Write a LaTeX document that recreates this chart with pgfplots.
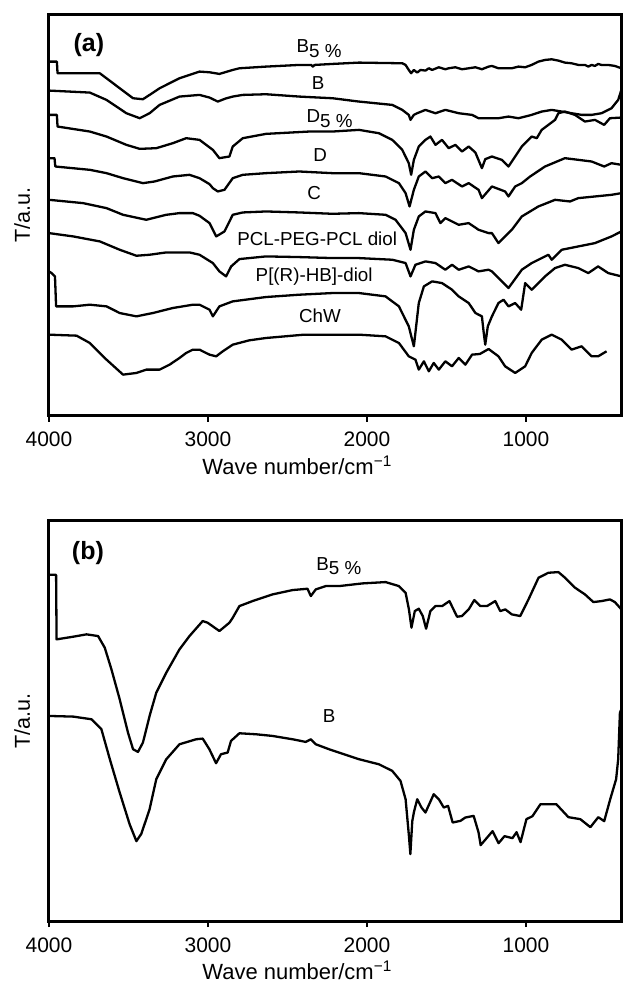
\documentclass[border=0pt]{standalone}
\usepackage{fontspec}
\setmainfont{Liberation Sans}
\usepackage{pgfplots}
\pgfplotsset{compat=1.18}
\usetikzlibrary{calc}

\pgfplotsset{
  ftir/.style={
    scale only axis, width=286.5bp, height=200.5bp,
    x dir=reverse, xmin=400, xmax=4000, ymin=0, ymax=1203,
    xtick={4000,3000,2000,1000}, ytick=\empty,
    xtick pos=bottom, tick align=outside, major tick length=3bp,
    axis line style={line width=1.5bp, black},
    tick style={line width=1.2bp, black},
    /pgf/number format/assume math mode=true,
    /pgf/number format/1000 sep={},
    xticklabel style={font=\fontsize{10.5bp}{12bp}\selectfont, anchor=center, yshift=-9bp},
    xlabel={Wave number/cm\textsuperscript{−1}},
    ylabel={T/a.u.},
    xlabel style={at={(axis description cs:0.434,0)}, anchor=center, yshift=-24.8bp, font=\fontsize{11bp}{13bp}\selectfont},
    ylabel style={at={(axis description cs:-0.047,0.5)}, anchor=center, font=\fontsize{10.8bp}{12bp}\selectfont},
    cycle list={{black, solid}},
    every axis plot post/.append style={line width=1.15bp, black, solid, no markers, line join=round},
    clip=false,
  },
}
\tikzset{
  lbl/.style={anchor=base, font=\fontsize{9.4bp}{11bp}\selectfont, inner sep=0pt},
  pan/.style={anchor=base, font=\fontsize{12.5bp}{14bp}\selectfont\bfseries, inner sep=0pt},
}

\begin{document}
\begin{tikzpicture}

% (a)
\begin{axis}[ftir, name=pa, at={(0,0)}, anchor=north west]
% B5 %
\addplot coordinates {(4000,1063) (3950,1063) (3946,1028) (3847,1028) (3743,1028) (3680,1028) (3638,1013) (3555,983) (3471,953) (3409,950) (3367,963) (3304,983) (3179,1013) (3053,1033) (2991,1031) (2928,1026) (2844,1038) (2802,1043) (2635,1048) (2426,1053) (2350,1053) (2340,1048) (2330,1053) (2217,1056) (2050,1060) (1778,1058) (1757,1053) (1737,1038) (1722,1028) (1705,1038) (1684,1030) (1663,1038) (1632,1036) (1611,1043) (1590,1038) (1548,1046) (1507,1040) (1486,1043) (1444,1046) (1402,1040) (1360,1043) (1318,1046) (1277,1040) (1235,1048) (1214,1050) (1173,1043) (1131,1043) (1089,1043) (1047,1048) (1005,1046) (964,1053) (922,1063) (880,1068) (838,1070) (796,1066) (755,1060) (713,1058) (671,1053) (629,1053) (608,1048) (587,1053) (566,1050) (546,1056) (525,1053) (483,1053) (441,1050) (400,1043)};
% B
\addplot coordinates {(4000,976) (3743,970) (3638,948) (3513,908) (3429,893) (3367,908) (3304,933) (3179,958) (3053,963) (2990,955) (2938,943) (2890,952) (2844,958) (2781,963) (2635,965) (2426,958) (2217,953) (2050,943) (1841,933) (1778,918) (1737,903) (1726,888) (1705,903) (1684,908) (1632,918) (1569,908) (1507,918) (1423,908) (1339,903) (1298,893) (1235,893) (1173,893) (1110,898) (1047,893) (964,903) (901,913) (838,918) (775,913) (713,908) (650,903) (587,903) (525,908) (462,923) (420,948) (400,978)};
% D5 %
\addplot coordinates {(4000,903) (3950,903) (3946,868) (3743,853) (3638,838) (3513,813) (3429,801) (3325,803) (3221,818) (3137,833) (3053,828) (2969,798) (2928,773) (2865,778) (2844,808) (2781,833) (2635,846) (2363,853) (2217,853) (2050,858) (1925,848) (1841,828) (1778,798) (1737,758) (1722,723) (1705,768) (1674,808) (1632,828) (1601,838) (1569,813) (1528,828) (1486,803) (1444,813) (1402,793) (1360,808) (1318,790) (1277,743) (1256,770) (1214,778) (1152,768) (1110,748) (1068,778) (1026,808) (985,828) (964,838) (932,833) (901,858) (859,873) (817,888) (796,908) (755,913) (692,903) (629,883) (566,888) (508,873) (472,893) (400,895)};
% D
\addplot coordinates {(4000,773) (3965,773) (3960,748) (3743,738) (3638,728) (3534,713) (3409,698) (3336,703) (3221,718) (3116,723) (3053,713) (2990,695) (2969,683) (2938,673) (2896,678) (2844,713) (2781,723) (2635,728) (2426,733) (2217,728) (2050,728) (1883,718) (1799,698) (1757,668) (1732,628) (1705,678) (1674,718) (1632,733) (1590,713) (1548,718) (1507,698) (1465,708) (1402,688) (1360,698) (1298,678) (1277,653) (1214,688) (1131,673) (1110,658) (1068,688) (1026,698) (974,718) (880,748) (755,773) (671,768) (587,763) (508,748) (462,758) (400,753)};
% C
\addplot coordinates {(4000,648) (3785,638) (3638,623) (3534,603) (3388,588) (3346,593) (3262,603) (3179,608) (3095,608) (3053,600) (2990,578) (2948,538) (2896,553) (2844,603) (2781,610) (2635,613) (2426,610) (2217,606) (2050,608) (1883,603) (1820,588) (1757,548) (1726,498) (1705,558) (1674,598) (1632,613) (1569,608) (1538,578) (1507,593) (1465,583) (1423,573) (1360,578) (1298,558) (1235,548) (1214,548) (1173,518) (1089,558) (1026,598) (922,628) (817,648) (723,643) (671,653) (566,658) (462,663) (400,668)};
% PCL-PEG-PCL diol
\addplot coordinates {(4000,548) (3847,538) (3680,523) (3555,498) (3450,480) (3367,483) (3262,490) (3116,490) (3053,483) (2969,458) (2928,433) (2886,418) (2854,448) (2802,470) (2635,478) (2426,476) (2217,473) (2050,473) (1841,468) (1757,458) (1726,418) (1695,453) (1632,463) (1569,458) (1507,438) (1465,453) (1423,438) (1360,448) (1298,433) (1235,438) (1214,433) (1110,383) (1026,438) (964,458) (859,483) (838,468) (775,498) (671,508) (566,518) (462,538) (400,553)};
% P[(R)-HB]-diol
\addplot coordinates {(4000,433) (3983,428) (3962,418) (3955,328) (3847,328) (3743,333) (3638,328) (3555,308) (3450,298) (3346,308) (3221,323) (3095,333) (3053,333) (2990,318) (2969,298) (2928,328) (2844,343) (2635,356) (2426,363) (2217,368) (2050,368) (1883,358) (1799,328) (1737,268) (1705,208) (1674,338) (1642,388) (1590,403) (1528,398) (1465,378) (1423,358) (1360,338) (1318,308) (1277,298) (1266,250) (1256,213) (1240,268) (1214,298) (1173,338) (1141,348) (1110,328) (1068,338) (1030,318) (1005,398) (964,378) (922,398) (880,418) (817,443) (755,453) (671,443) (608,428) (546,448) (483,428) (400,418)};
% ChW
\addplot coordinates {(4000,243) (3826,240) (3743,218) (3638,168) (3534,123) (3450,128) (3388,138) (3304,138) (3241,153) (3179,173) (3137,188) (3095,198) (3053,198) (3012,188) (2990,183) (2948,178) (2907,193) (2844,213) (2740,226) (2635,233) (2395,243) (2217,243) (2050,243) (1883,238) (1799,218) (1737,178) (1695,168) (1674,138) (1642,163) (1611,133) (1580,158) (1548,138) (1507,163) (1465,148) (1423,173) (1381,153) (1339,183) (1290,185) (1235,200) (1173,178) (1131,148) (1068,128) (1005,148) (964,188) (901,228) (838,243) (775,228) (713,198) (650,208) (587,178) (546,178) (493,193)};
\node[pan] at (axis cs:3749,1092) {(a)};
\node[lbl, anchor=base west] at (axis cs:2445,1089) {B\raisebox{-0.45ex}{5 \%}};
\node[lbl] at (axis cs:2307,978) {B};
\node[lbl, anchor=base west] at (axis cs:2382,879) {D\raisebox{-0.45ex}{5 \%}};
\node[lbl] at (axis cs:2295,762) {D};
\node[lbl] at (axis cs:2332,648) {C};
\node[lbl] at (axis cs:2313,510) {PCL-PEG-PCL diol};
\node[lbl] at (axis cs:2332,402) {P[(R)-HB]-diol};
\node[lbl] at (axis cs:2295,279) {ChW};
\end{axis}

% (b)
\begin{axis}[ftir, name=pb, at={(0,-253bp)}, anchor=north west]
% B5 %
\addplot coordinates {(4000,1040) (3955,1040) (3952,846) (3847,854) (3764,861) (3691,856) (3649,821) (3607,756) (3555,666) (3503,566) (3471,516) (3440,508) (3409,536) (3367,616) (3325,686) (3262,746) (3179,816) (3116,856) (3033,901) (3002,896) (2928,871) (2865,896) (2844,911) (2802,946) (2719,961) (2594,981) (2468,994) (2374,998) (2353,976) (2322,996) (2259,1006) (2175,1006) (2029,1014) (1883,1018) (1799,1006) (1757,986) (1736,936) (1720,881) (1699,931) (1674,938) (1649,916) (1628,878) (1601,931) (1569,946) (1527,946) (1481,961) (1461,941) (1433,914) (1402,916) (1360,936) (1325,964) (1287,946) (1245,946) (1193,961) (1162,931) (1130,936) (1089,921) (1036,916) (984,966) (921,1031) (859,1046) (796,1048) (754,1031) (691,1001) (629,981) (576,958) (524,961) (472,966) (441,958) (409,941) (400,936)};
% B
\addplot coordinates {(4000,616) (3847,614) (3732,606) (3670,576) (3617,486) (3555,386) (3492,290) (3450,240) (3419,262) (3367,336) (3325,426) (3262,486) (3179,531) (3074,546) (3033,548) (2991,516) (2949,474) (2918,501) (2876,506) (2855,541) (2802,564) (2698,561) (2594,556) (2468,546) (2385,538) (2353,546) (2322,531) (2238,516) (2050,486) (1925,471) (1841,451) (1789,421) (1757,366) (1736,256) (1727,201) (1715,300) (1705,326) (1684,366) (1657,341) (1632,326) (1580,381) (1548,366) (1517,341) (1490,346) (1461,296) (1412,301) (1381,311) (1329,316) (1298,266) (1285,228) (1210,270) (1172,234) (1135,255) (1085,249) (1059,267) (1034,237) (997,306) (959,315) (909,351) (809,351) (733,312) (658,306) (595,282) (545,312) (508,300) (470,366) (433,426) (420,486) (409,626) (400,636)};
\node[pan] at (axis cs:3755,1086) {(b)};
\node[lbl, anchor=base west] at (axis cs:2320,1053) {B\raisebox{-0.45ex}{5 \%}};
\node[lbl] at (axis cs:2238,597) {B};
\end{axis}

\pgfresetboundingbox
\path[use as bounding box] ($(pa.north west)+(-24.5bp,7.5bp)$) rectangle ($(pb.south east)+(1.5bp,-31.5bp)$);
\end{tikzpicture}
\end{document}
